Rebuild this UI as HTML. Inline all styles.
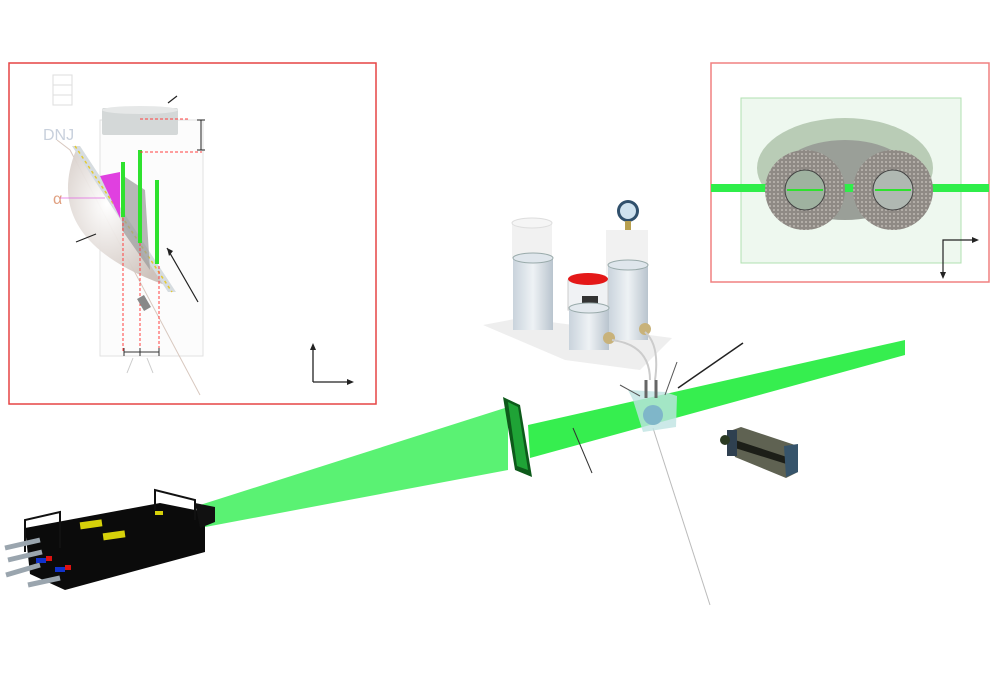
<!DOCTYPE html>
<html><head><meta charset="utf-8"><style>
html,body{margin:0;padding:0;background:#fff;width:1000px;height:700px;overflow:hidden}
svg{display:block}
text{font-family:"Liberation Sans",sans-serif}
</style></head><body>
<svg width="1000" height="700" viewBox="0 0 1000 700">
<defs>
<linearGradient id="cyl" x1="0" x2="1"><stop offset="0" stop-color="#c9d3dc"/><stop offset=".5" stop-color="#eef2f5"/><stop offset="1" stop-color="#b9c4ce"/></linearGradient>
<radialGradient id="bowl" cx=".4" cy=".4" r=".7"><stop offset="0" stop-color="#fff"/><stop offset="1" stop-color="#cbbfb8"/></radialGradient>
<pattern id="mesh" width="4" height="4" patternUnits="userSpaceOnUse"><rect width="4" height="4" fill="#8f8a85"/><circle cx="2" cy="2" r="1" fill="#bdb8b2"/></pattern>
</defs>
<!-- main beam -->
<polygon points="200,505 508,407 508,470 200,528" fill="#3df05a" opacity=".85"/>
<polygon points="528,425 905,340 905,355 530,458" fill="#36ee4f"/>
<!-- screen -->
<polygon points="503,397 520,405 532,477 515,470" fill="#0d5a1a"/>
<polygon points="508,402 518,407 528,470 517,466" fill="#1fa336"/>
<!-- label lines -->
<line x1="573" y1="428" x2="592" y2="473" stroke="#333" stroke-width="1"/>
<line x1="678" y1="388" x2="743" y2="343" stroke="#222" stroke-width="1.5"/>
<line x1="653" y1="428" x2="710" y2="605" stroke="#bbb" stroke-width="1"/>
<!-- platform -->
<polygon points="483,325 520,318 672,338 640,370 565,360" fill="#eeeeee"/>
<!-- tanks -->
<rect x="512" y="223" width="40" height="35" fill="#f1f1f1"/>
<ellipse cx="532" cy="223" rx="20" ry="5" fill="#f5f5f5" stroke="#ddd"/>
<rect x="513" y="258" width="40" height="72" fill="url(#cyl)"/>
<ellipse cx="533" cy="258" rx="20" ry="5" fill="#dfe6ec" stroke="#9aa"/>
<rect x="606" y="230" width="42" height="45" fill="#f1f1f1"/>
<rect x="608" y="265" width="40" height="75" fill="url(#cyl)"/>
<ellipse cx="628" cy="265" rx="20" ry="5" fill="#dfe6ec" stroke="#9aa"/>
<circle cx="628" cy="211" r="11" fill="#30506c"/><circle cx="628" cy="211" r="8" fill="#cfe2ef"/>
<rect x="625" y="221" width="6" height="9" fill="#b8a050"/>
<rect x="568" y="280" width="40" height="30" fill="#f0f2f4" stroke="#ccc"/>
<ellipse cx="588" cy="279" rx="20" ry="6" fill="#e41818"/>
<rect x="582" y="296" width="16" height="8" fill="#333"/>
<rect x="569" y="308" width="40" height="42" fill="url(#cyl)"/>
<ellipse cx="589" cy="308" rx="20" ry="5" fill="#e3e9ee" stroke="#9aa"/>
<circle cx="609" cy="338" r="6" fill="#c8b27a"/><circle cx="645" cy="329" r="6" fill="#c8b27a"/>
<path d="M612 340 Q650 345 650 380 M645 332 Q660 345 655 380" stroke="#ccc" fill="none" stroke-width="2"/>
<!-- cuvette -->
<polygon points="628,390 665,392 677,396 676,427 643,432 633,400" fill="#bfe3e2" opacity=".8"/>
<circle cx="653" cy="415" r="10" fill="#7fb6c9"/>
<line x1="646" y1="380" x2="646" y2="398" stroke="#666" stroke-width="3"/>
<line x1="656" y1="380" x2="656" y2="398" stroke="#666" stroke-width="3"/>
<line x1="620" y1="385" x2="640" y2="396" stroke="#555"/>
<line x1="665" y1="395" x2="677" y2="362" stroke="#555"/>
<!-- camera -->
<polygon points="727,432 741,427 798,446 798,472 786,478 735,457" fill="#5f6252"/>
<polygon points="735,440 796,460 796,467 735,448" fill="#1c1e18"/>
<polygon points="784,446 798,444 798,472 786,477" fill="#36546b"/>
<rect x="727" y="430" width="10" height="26" fill="#2f4050"/>
<circle cx="725" cy="440" r="5" fill="#2b3a22"/>
<!-- laser -->
<polygon points="25,528 160,503 205,512 205,552 65,590 30,574" fill="#0b0b0b"/>
<polygon points="195,503 215,507 215,522 200,528" fill="#111"/>
<rect x="80" y="521" width="22" height="7" fill="#d6d10a" transform="rotate(-8 90 524)"/>
<rect x="103" y="532" width="22" height="7" fill="#d6d10a" transform="rotate(-8 113 535)"/>
<rect x="155" y="511" width="8" height="4" fill="#d6d10a"/>
<path d="M25 552 V520 L60 512 V548 M155 510 V490 L195 500 V520" stroke="#111" stroke-width="2" fill="none"/>
<path d="M5 548 L40 540 M8 560 L42 552 M6 575 L40 565 M28 585 L60 578" stroke="#9aa5ae" stroke-width="5"/>
<rect x="36" y="558" width="10" height="5" fill="#1133cc"/><rect x="46" y="556" width="6" height="5" fill="#dd1111"/>
<rect x="55" y="567" width="10" height="5" fill="#1133cc"/><rect x="65" y="565" width="6" height="5" fill="#dd1111"/>
<!-- left inset -->
<rect x="9" y="63" width="367" height="341" fill="#fff" stroke="#e64444" stroke-width="1.5"/>
<path d="M53 75 H72 V105 H53 Z M53 85 H72 M53 95 H72" stroke="#ddd" fill="none"/>
<rect x="100" y="120" width="103" height="236" fill="#fcfcfc" stroke="#e2e2e2"/>
<rect x="102" y="108" width="76" height="27" rx="2" fill="#d4d8d8"/>
<ellipse cx="140" cy="110" rx="38" ry="4" fill="#e6e8e8"/>
<path d="M57 140 L70 150 L200 395" stroke="#d8c8bf" fill="none"/>
<path d="M76 150 Q40 240 165 285 Z" fill="url(#bowl)" opacity=".95"/>
<polygon points="72,146 80,146 176,292 168,292" fill="#d6dce0"/>
<line x1="75" y1="146" x2="172" y2="292" stroke="#e4c930" stroke-width="1.5" stroke-dasharray="3 3"/>
<polygon points="100,176 120,172 120,218" fill="#e040e0"/>
<polygon points="122,175 145,190 150,270 122,230" fill="#9a9a9a" opacity=".7"/>
<rect x="121" y="162" width="4" height="55" fill="#2ee22e"/>
<rect x="138" y="150" width="4" height="93" fill="#2ee22e"/>
<rect x="155" y="180" width="4" height="84" fill="#2ee22e"/>
<g stroke="#ff4040" stroke-dasharray="3 2" stroke-width="1" fill="none">
<path d="M140 119 H190 M140 152 H202 M123 218 V352 M140 243 V352 M159 266 V352"/></g>
<path d="M201 120 V150 M197 120 H205 M197 150 H205" stroke="#222"/>
<path d="M124 352 H159 M124 348 V356 M140 348 V356 M159 348 V356" stroke="#333"/>
<path d="M133 358 L127 373 M147 358 L153 373" stroke="#ccc"/>
<rect x="140" y="296" width="8" height="14" fill="#888" transform="rotate(-30 144 303)"/>
<text x="43" y="140" font-size="16" fill="#c8d0dc">DNJ</text>
<text x="53" y="204" font-size="16" fill="#e0a080">α</text>
<line x1="60" y1="198" x2="105" y2="198" stroke="#e066e0" stroke-width=".8"/>
<path d="M177 96 L168 103 M76 242 L96 234 M198 302 L167 248" stroke="#222" stroke-width="1.2"/>
<path d="M167 248 l2 8 l4 -5 z" fill="#222"/>
<path d="M313 382 V347 M313 382 H350" stroke="#222" stroke-width="1.3"/>
<path d="M313 343 l-3 7 h6 z M354 382 l-7 -3 v6 z" fill="#222"/>
<!-- right inset -->
<rect x="711" y="63" width="278" height="219" fill="#fff" stroke="#f08080" stroke-width="1.5"/>
<rect x="741" y="98" width="220" height="165" fill="#eef8ef" stroke="#b0e0b0"/>
<ellipse cx="845" cy="168" rx="88" ry="50" fill="#b9ccb6"/>
<ellipse cx="845" cy="180" rx="70" ry="40" fill="#9a9f98"/>
<rect x="711" y="184" width="278" height="8" fill="#2fee4a"/>
<circle cx="805" cy="190" r="40" fill="url(#mesh)"/>
<circle cx="805" cy="190" r="20" fill="#9fb2a0" stroke="#444"/>
<circle cx="893" cy="190" r="40" fill="url(#mesh)"/>
<circle cx="893" cy="190" r="20" fill="#b0b8b2" stroke="#444"/>
<line x1="787" y1="190" x2="823" y2="190" stroke="#2ee22e" stroke-width="2"/>
<line x1="875" y1="190" x2="911" y2="190" stroke="#2ee22e" stroke-width="2"/>
<path d="M943 275 V240 H975" stroke="#222" stroke-width="1.2" fill="none"/>
<path d="M943 279 l-3 -7 h6 z M979 240 l-7 -3 v6 z" fill="#222"/>
</svg>
</body></html>
